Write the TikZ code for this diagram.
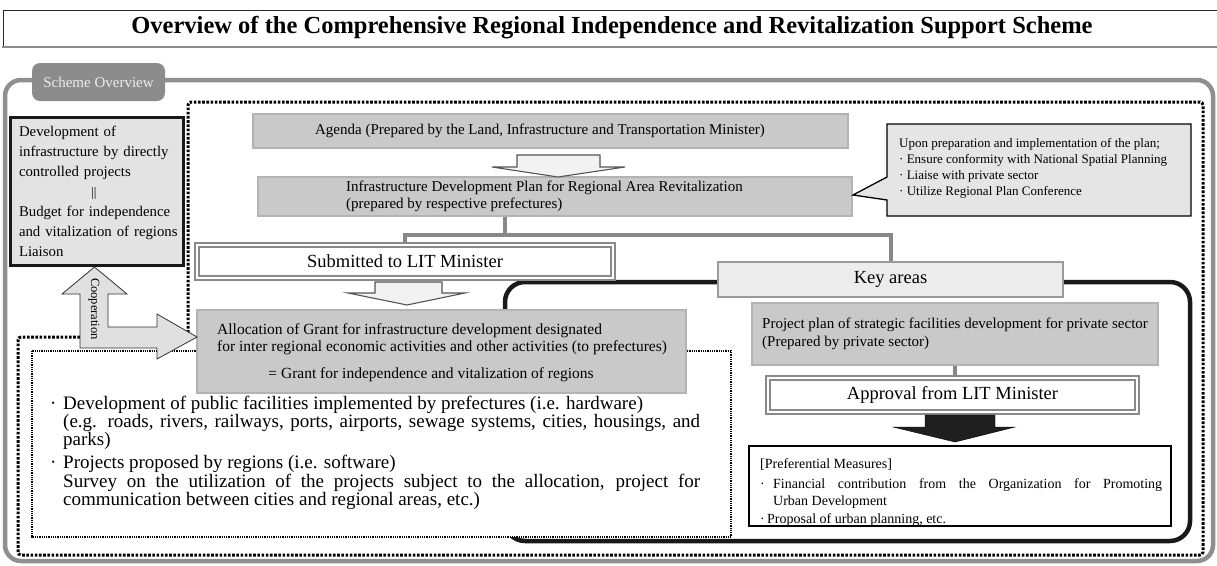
\documentclass[tikz,border=0pt]{standalone}
\usepackage{fontspec}
\setmainfont{Liberation Serif}
\usetikzlibrary{calc}
\newcommand\myfs[2]{\fontsize{#1pt}{#2pt}\selectfont}
\definecolor{outergray}{HTML}{8F8F8F}
\definecolor{tabgray}{HTML}{8C8C8C}
\definecolor{boxfill}{HTML}{C9C9C9}
\definecolor{boxedge}{HTML}{B3B3B3}
\definecolor{lightfill}{HTML}{E3E3E3}
\definecolor{keyfill}{HTML}{ECECEC}
\definecolor{keyedge}{HTML}{9A9A9A}
\definecolor{dblgray}{HTML}{8A8A8A}
\definecolor{conngray}{HTML}{888888}
\definecolor{arrowfill}{HTML}{F2F2F2}
\definecolor{arrowedge}{HTML}{555555}
\definecolor{coopfill}{HTML}{E0E0E0}
\definecolor{callfill}{HTML}{E5E5E5}
\definecolor{tabtext}{HTML}{EDEDED}
\begin{document}
\begin{tikzpicture}[x=1pt,y=-1pt,
  graybox/.style={fill=boxfill, draw=boxedge, line width=1.5pt, inner sep=0pt},
  dblbox/.style={fill=white, draw=dblgray, line width=1.9pt, double=white, double distance=1.3pt, inner sep=0pt},
  conn/.style={draw=conngray, line width=4pt},
  hollowarrow/.style={fill=arrowfill, draw=arrowedge, line width=1.1pt},
  txt/.style={inner sep=0pt},
  bltxt/.style={inner sep=0pt, anchor=base west, font=\myfs{19}{18}},
  preftxt/.style={inner sep=0pt, anchor=base west, font=\myfs{14}{18}}]
\useasboundingbox (0,0) rectangle (1217,565);

% title
\draw[line width=1pt, black!85] (1217,10) -- (3,10) -- (3,46);
\draw[line width=2pt, black!45] (2,46.5) -- (1217,46.5);
\node[txt, font=\bfseries\myfs{24.5}{28}] (title) at (612,28) {Overview of the Comprehensive Regional Independence and Revitalization Support Scheme};

% outer frame and tab
\draw[outergray, line width=4.5pt, rounded corners=16pt] (5,80) rectangle (1213,561);
\node[fill=tabgray, rounded corners=8pt, minimum width=133pt, minimum height=38pt, inner sep=0pt, text=tabtext, font=\myfs{15}{17}] (tab) at (98.5,82) {Scheme Overview};

% thick dotted boundary
\draw[line width=3pt, dash pattern=on 2.6pt off 1.6pt, rounded corners=3pt] (18,555) -- (18,337) -- (188,337) -- (188,102) -- (1203,102) -- (1203,555) -- cycle;

% black rounded region (key areas)
\draw[line width=4.5pt, black!90, rounded corners=20pt] (505,282) rectangle (1190,541);

% thin dotted white box
\draw[fill=white, line width=1.8pt, dash pattern=on 1pt off 0.8pt] (32,351) rectangle (731,537);

% boxes
\node[graybox, minimum width=595pt, minimum height=34pt] (agenda) at (550.5,131) {};
\node[graybox, minimum width=594pt, minimum height=39pt] (infra) at (555,196.5) {};
\node[fill=lightfill, draw=black!90, line width=3pt, minimum width=173pt, minimum height=148pt, inner sep=0pt] (leftbox) at (96.5,191) {};
\node[graybox, minimum width=489pt, minimum height=83pt] (alloc) at (441.5,351.5) {};
\node[fill=keyfill, draw=keyedge, line width=2pt, minimum width=345pt, minimum height=35pt, inner sep=0pt, font=\myfs{18.5}{20}] (keyareas) at (890.5,279.5) {Key areas};
\node[graybox, minimum width=406pt, minimum height=62pt] (project) at (955,334) {};
\node[fill=white, draw=black, line width=1.5pt, minimum width=422pt, minimum height=80pt, inner sep=0pt] (pref) at (960,486) {};

% connectors
\coordinate (junc) at (505,235);
\draw[conn] (infra.south -| junc) -- (junc);
\node[dblbox, minimum width=416pt, minimum height=33pt, font=\myfs{18.5}{20}] (submitted) at (405,261.5) {Submitted to LIT Minister};
\draw[conn] (submitted.north) |- (junc) -| (keyareas.north);
\node[dblbox, minimum width=369pt, minimum height=34pt, font=\myfs{18.5}{20}] (approval) at (952.5,395) {Approval from LIT Minister};
\draw[conn] (project.south) -- (project.south |- approval.north);

% callout
\draw[fill=callfill, draw=black, line width=1.3pt] (887,124) -- (1191,124) -- (1191,216) -- (887,216) -- (887,200) -- (853,195) -- (887,177) -- cycle;
\node[txt, anchor=west, align=left, font=\myfs{13}{16}] (calltext) at (899,168) {Upon preparation and implementation of the plan;\\ · Ensure conformity with National Spatial Planning\\ · Liaise with private sector\\ · Utilize Regional Plan Conference};

% block arrows
\draw[hollowarrow] (517,155) -- (600,155) -- (600,167) -- (625,167) -- (558,177) -- (492,167) -- (517,167) -- cycle;
\draw[hollowarrow] (375,282) -- (442,282) -- (442,293) -- (465,293) -- (407,305) -- (348,293) -- (375,293) -- cycle;
\draw[fill=black!88, draw=black] (925,415) -- (995,415) -- (995,427) -- (1015,427) -- (955,442) -- (893,427) -- (925,427) -- cycle;
\draw[fill=coopfill, draw=black!80, line width=0.8pt] (94.5,267) -- (127,294) -- (108,294) -- (108,327) -- (157,327) -- (157,314) -- (197,337) -- (157,359) -- (157,348) -- (80,348) -- (80,294) -- (62,294) -- cycle;
\node[txt, rotate=-90, font=\myfs{12.5}{14}] (coop) at (94,309) {Cooperation};

% texts
\node[txt, font=\myfs{15}{17}] (agendatext) at (540,131) {Agenda (Prepared by the Land, Infrastructure and Transportation Minister)};
\node[txt, anchor=west, align=left, font=\myfs{15}{17}] (infratext) at (346,196.5) {Infrastructure Development Plan for Regional Area Revitalization\\ (prepared by respective prefectures)};
\node[txt, text width=160pt, align=left, font=\myfs{14.8}{20}] (lefttext) at (99,191) {Development of\\ infrastructure by directly\\ controlled projects\\ \makebox[150pt]{\myfs{13}{20}||}\\ Budget for independence\\ and vitalization of regions\\ Liaison};
\node[txt, anchor=west, align=left, font=\myfs{15.5}{17.5}] (alloctext) at (217,339) {Allocation of Grant for infrastructure development designated\\ for inter regional economic activities and other activities (to prefectures)};
\node[txt, font=\myfs{15.5}{17.5}] (allocgrant) at (431,375) {= Grant for independence and vitalization of regions};
\node[txt, anchor=west, align=left, font=\myfs{15}{18}] (projtext) at (762,334) {Project plan of strategic facilities development for private sector\\ (Prepared by private sector)};

% bottom-left list, one node per line
\node[bltxt] (bl1) at (50,409) {·};
\node[bltxt] (bl1b) at (63,409) {Development of public facilities implemented by prefectures (i.e. hardware)};
\node[bltxt] (bl2) at (63,427) {\makebox[637pt][s]{(e.g. roads, rivers, railways, ports, airports, sewage systems, cities, housings, and}};
\node[bltxt] (bl3) at (63,445) {parks)};
\node[bltxt] (bl4) at (50,468) {·};
\node[bltxt] (bl4b) at (63,468) {Projects proposed by regions (i.e. software)};
\node[bltxt] (bl5) at (63,487) {\makebox[637pt][s]{Survey on the utilization of the projects subject to the allocation, project for}};
\node[bltxt] (bl6) at (63,505) {communication between cities and regional areas, etc.)};

% preferential measures, one node per line
\node[preftxt] (p1) at (760,468) {[Preferential Measures]};
\node[preftxt] (p2) at (760,488) {·};
\node[preftxt] (p2b) at (773,488) {\makebox[389pt][s]{Financial contribution from the Organization for Promoting}};
\node[preftxt] (p3) at (773,505) {Urban Development};
\node[preftxt] (p4) at (760,523) {·};
\node[preftxt] (p4b) at (767,523) {Proposal of urban planning, etc.};
\end{tikzpicture}
\end{document}
